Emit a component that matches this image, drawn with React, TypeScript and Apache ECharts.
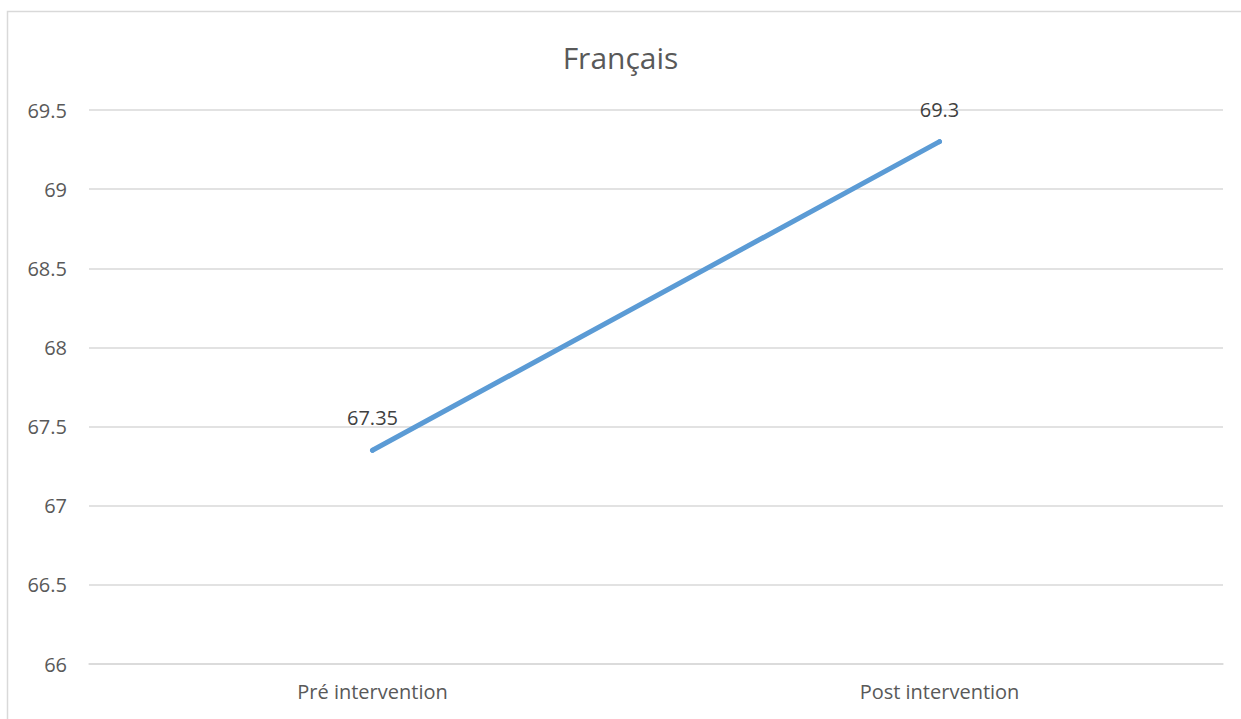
import React, { useEffect, useRef } from "react";
import * as echarts from "echarts";

const categories = ["Pré intervention", "Post intervention"];
const values = [67.35, 69.3];
const titleText = "Français";

export default function App() {
  const ref = useRef<HTMLDivElement>(null);
  useEffect(() => {
    const chart = echarts.init(ref.current!, null, { renderer: "svg" });
    chart.setOption({
      animation: false,
      backgroundColor: "#ffffff",
      textStyle: { fontFamily: "Open Sans" },
      title: {
        text: titleText,
        left: "center",
        top: 37,
        textStyle: { fontFamily: "Open Sans", fontSize: 30, fontWeight: "normal", color: "#595959" },
      },
      graphic: [
        {
          type: "rect",
          shape: { x: 7.5, y: 11.5, width: 1300, height: 800 },
          style: { fill: "none", stroke: "#d9d9d9", lineWidth: 1.5 },
          silent: true,
        },
      ],
      grid: { left: 89, right: 18, top: 110, bottom: 55, containLabel: false },
      xAxis: {
        type: "category",
        data: categories,
        boundaryGap: true,
        axisLine: { show: true, lineStyle: { color: "#d9d9d9", width: 1.5 } },
        axisTick: { show: false },
        axisLabel: { fontSize: 20, color: "#595959", margin: 17, fontFamily: "Open Sans" },
      },
      yAxis: {
        type: "value",
        min: 66,
        max: 69.5,
        interval: 0.5,
        axisLine: { show: false },
        axisTick: { show: false },
        splitLine: { lineStyle: { color: "#d9d9d9", width: 1.5 } },
        axisLabel: { fontSize: 20, color: "#595959", margin: 22, fontFamily: "Open Sans" },
      },
      series: [
        {
          type: "line",
          data: values,
          symbol: "circle",
          symbolSize: 5,
          showSymbol: true,
          lineStyle: { color: "#5b9bd5", width: 5, cap: "round" },
          itemStyle: { color: "#5b9bd5", borderWidth: 0 },
          label: {
            show: true,
            position: "top",
            distance: 20,
            fontSize: 20,
            color: "#404040",
            fontFamily: "Open Sans",
          },
        },
      ],
    });
    return () => chart.dispose();
  }, []);
  return (
    <div
      ref={ref}
      style={{ position: "fixed", left: 0, top: 0, width: 1241, height: 719 }}
    />
  );
}
